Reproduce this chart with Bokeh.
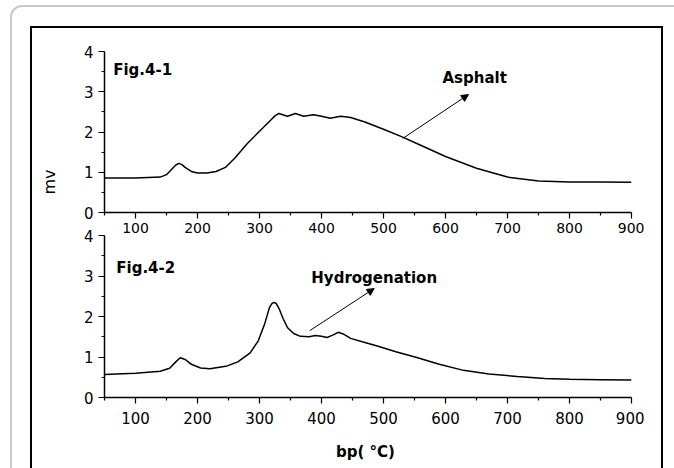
from bokeh.plotting import figure
from bokeh.models import Label, Arrow, NormalHead, FixedTicker
from bokeh.layouts import column
from bokeh.embed import file_html
from bokeh.resources import INLINE

# ---- data ----
asphalt_x = [50, 100, 140, 150, 160, 165, 170, 175, 180, 190, 200, 215, 230, 245, 260, 280, 300,
             315, 325, 331, 345, 358, 371, 387, 400, 414, 431, 447, 470, 500, 530, 560,
             600, 650, 700, 750, 800, 850, 900]
asphalt_y = [0.86, 0.86, 0.88, 0.94, 1.10, 1.18, 1.22, 1.19, 1.12, 1.02, 0.98, 0.98, 1.02, 1.12, 1.35,
             1.71, 2.02, 2.25, 2.40, 2.46, 2.39, 2.46, 2.39, 2.43, 2.39, 2.34, 2.39, 2.36,
             2.25, 2.07, 1.88, 1.67, 1.39, 1.10, 0.88, 0.78, 0.76, 0.755, 0.75]

hydro_x = [50, 100, 140, 155, 165, 172, 180, 190, 205, 220, 248, 265, 285, 298, 308, 316,
           320, 323, 327, 332, 338, 345, 355, 366, 380, 390, 400, 409, 418, 427, 435, 447,
           470, 490, 520, 555, 590, 629, 670, 716, 760, 800, 850, 900]
hydro_y = [0.57, 0.60, 0.65, 0.72, 0.88, 0.98, 0.94, 0.82, 0.73, 0.71, 0.78, 0.88, 1.10,
           1.40, 1.80, 2.22, 2.32, 2.35, 2.32, 2.18, 1.95, 1.73, 1.58, 1.51, 1.50, 1.53,
           1.51, 1.48, 1.54, 1.61, 1.57, 1.46, 1.36, 1.27, 1.13, 0.98, 0.82, 0.67, 0.58,
           0.52, 0.47, 0.45, 0.44, 0.43]

x_ticks = [100, 200, 300, 400, 500, 600, 700, 800, 900]
x_minor = [50, 150, 250, 350, 450, 550, 650, 750, 850]
y_ticks = [0, 1, 2, 3, 4]
y_minor = [0.5, 1.5, 2.5, 3.5]

FONT = "DejaVu Sans"


def make_fig(height, top, bottom, xlabel_size, **kw):
    p = figure(width=629, height=height, x_range=(50, 900), y_range=(0, 4),
               output_backend="svg", toolbar_location=None,
               min_border_left=88, min_border_right=13,
               min_border_top=top, min_border_bottom=bottom, **kw)
    p.grid.visible = False
    p.outline_line_color = None
    p.background_fill_color = None
    p.border_fill_color = None
    p.xaxis.ticker = FixedTicker(ticks=x_ticks, minor_ticks=x_minor)
    p.yaxis.ticker = FixedTicker(ticks=y_ticks, minor_ticks=y_minor)
    for ax in (p.xaxis, p.yaxis):
        ax.axis_line_width = 1.5
        ax.axis_line_color = "black"
        ax.major_tick_line_color = "black"
        ax.minor_tick_line_color = "black"
        ax.major_tick_line_width = 1.2
        ax.minor_tick_line_width = 1.2
        ax.major_tick_in = 0
        ax.major_tick_out = 6
        ax.minor_tick_in = 0
        ax.minor_tick_out = 3
        ax.major_label_text_font = FONT
        ax.major_label_text_color = "black"
    p.xaxis.major_label_text_font_size = xlabel_size
    p.yaxis.major_label_text_font_size = "15px"
    p.yaxis.major_label_standoff = 5
    return p


def bold_label(p, x, y, text, align):
    p.add_layout(Label(x=x, y=y, text=text, text_font=FONT, text_font_style="bold",
                       text_font_size="15px", text_align=align, text_baseline="middle",
                       text_color="black"))


# ---- top panel ----
p1 = make_fig(212, 23, 28, "14px", title="mv", title_location="left")
p1.title.text_font = FONT
p1.title.text_font_size = "16px"
p1.title.text_font_style = "normal"
p1.title.text_color = "black"
p1.title.align = "left"
p1.title.offset = 18
p1.title.standoff = 44
p1.xaxis.major_label_standoff = 4
p1.line(asphalt_x, asphalt_y, line_color="black", line_width=1.5)
bold_label(p1, 64, 3.53, "Fig.4-1", "left")
bold_label(p1, 647, 3.33, "Asphalt", "center")
p1.add_layout(Arrow(x_start=531, y_start=1.84, x_end=637, y_end=2.93, line_width=1,
                    end=NormalHead(size=7, fill_color="black", line_color="black")))
p1.styles = {"position": "relative", "left": "-17px"}

# ---- bottom panel ----
p2 = make_fig(260, 15, 83, "15px")
p2.xaxis.major_label_standoff = 8
p2.line(hydro_x, hydro_y, line_color="black", line_width=1.5)
bold_label(p2, 69, 3.19, "Fig.4-2", "left")
bold_label(p2, 485, 2.94, "Hydrogenation", "center")
p2.add_layout(Arrow(x_start=381, y_start=1.65, x_end=485, y_end=2.69, line_width=1,
                    end=NormalHead(size=7, fill_color="black", line_color="black")))
p2.xaxis.axis_label = "bp(  \u00b0C)"
p2.xaxis.axis_label_text_font = FONT
p2.xaxis.axis_label_text_font_style = "bold"
p2.xaxis.axis_label_text_font_size = "15px"
p2.xaxis.axis_label_text_color = "black"
p2.xaxis.axis_label_standoff = 16
p2.styles = {"position": "relative", "top": "-20px", "left": "-17px"}

inner = column(p1, p2, styles={"border": "2px solid black"})
outer = column(inner, styles={"border": "2px solid #c8c8c8", "border-radius": "12px",
                              "margin-top": "5px", "margin-left": "10px",
                              "padding": "19px 40px 40px 18px"})

open("out.html", "w").write(file_html(outer, INLINE))
